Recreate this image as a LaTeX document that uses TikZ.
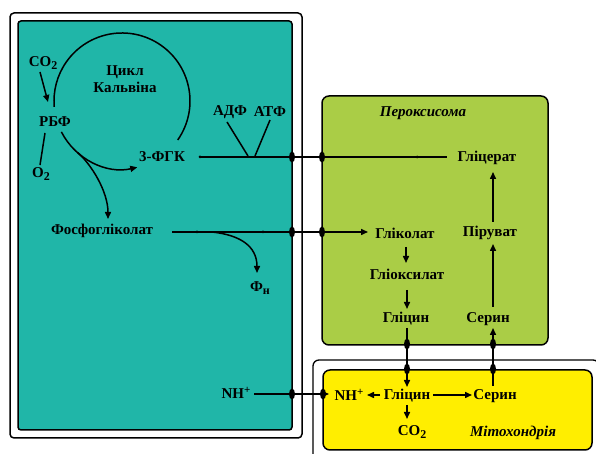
\documentclass[tikz,border=0pt]{standalone}
\usepackage{fontspec}
\setmainfont{Liberation Serif}
\usetikzlibrary{arrows.meta,shapes.geometric}
\definecolor{chlteal}{RGB}{32,182,168}
\definecolor{peroxg}{RGB}{170,205,70}
\definecolor{mitoy}{RGB}{255,238,0}
\newcommand\mysub[1]{\raisebox{-0.4ex}{\fontsize{12}{13}\selectfont #1}}
\newcommand\mysup[1]{\raisebox{0.7ex}{\fontsize{11}{12}\selectfont #1}}
\begin{document}
\begin{tikzpicture}[x=1pt,y=1pt,
  font=\fontsize{15}{17}\selectfont\bfseries,
  lbl/.style={inner sep=1pt},
  ital/.style={inner sep=1pt,font=\fontsize{15}{17}\selectfont\bfseries\itshape},
  ln/.style={line width=1.5pt},
  arr/.style={ln,-{Triangle[length=7pt,width=6pt]}},
  mem/.style={fill=black,ellipse,minimum width=6pt,minimum height=11pt,inner sep=0pt},
  tickdot/.style={fill=black,circle,inner sep=0pt,minimum size=3pt},
  boxline/.style={draw=black,line width=1.5pt}]
\useasboundingbox (0,0) rectangle (596,454);
\begin{scope}
\clip (0,0) rectangle (596,454);
% compartments
\draw[boxline,fill=white,rounded corners=4pt] (10,441) rectangle (302,16);
\draw[boxline,fill=chlteal,rounded corners=3pt] (18,433) rectangle (292,24);
\draw[boxline,fill=peroxg,rounded corners=7pt] (322,358) rectangle (548,109);
\draw[draw=black,line width=1.3pt,fill=white,rounded corners=6pt] (313,94) rectangle (599,-20);
\draw[boxline,fill=mitoy,rounded corners=7pt] (323,84) rectangle (592,4);
\end{scope}
% labels
\node[lbl] (co2) at (43,391) {CO\mysub{2}};
\node[lbl,align=center] (cyc) at (125,375) {Цикл\\Кальвіна};
\node[lbl] (rbf) at (55,332) {РБФ};
\node[lbl] (o2) at (41,280) {O\mysub{2}};
\node[lbl] (pga) at (162,297) {3-ФГК};
\node[lbl] (adp) at (230,342) {АДФ};
\node[lbl] (atp) at (270,342) {АТФ};
\node[lbl] (pgl) at (102,223) {Фосфогліколат};
\node[lbl] (pin) at (260,166) {Ф\mysub{н}};
\node[lbl] (nh1) at (236,61) {NH\mysup{+}};
\node[ital] (perox) at (423,341) {Пероксисома};
\node[lbl] (glyc) at (487,296) {Гліцерат};
\node[lbl] (glk) at (405,221) {Гліколат};
\node[lbl] (pyr) at (490,221) {Піруват};
\node[lbl] (glx) at (407,180) {Гліоксилат};
\node[lbl] (gly1) at (406,135) {Гліцин};
\node[lbl] (ser1) at (488,135) {Серин};
\node[lbl] (nh2) at (349,59) {NH\mysup{+}};
\node[lbl] (gly2) at (407,58) {Гліцин};
\node[lbl] (ser2) at (495,58) {Серин};
\node[lbl] (co2b) at (412,22) {CO\mysub{2}};
\node[ital] (mito) at (513,21) {Мітохондрія};
% coordinates
\coordinate (cycA) at (177.7,314);
\coordinate (cycB) at (61.4,322.1);
\coordinate (brA) at (77.4,301.7);
\coordinate (brB) at (108,235);
\coordinate (co2e) at (48,352);
\coordinate (co2s) at (40,382);
\coordinate (o2a) at (45,321);
\coordinate (o2b) at (40,289);
\coordinate (gs) at (200,297);
\coordinate (ge) at (447,297);
\coordinate (adpa) at (227,332);
\coordinate (adpb) at (248,298);
\coordinate (atpa) at (270,334);
\coordinate (atpb) at (255,298);
\coordinate (ps) at (172,222);
\coordinate (pe) at (368,222);
\coordinate (pb) at (212,222);
\coordinate (pn) at (257,181);
\coordinate (nhs) at (254,60);
\coordinate (nhe) at (329,60);
% Calvin cycle
\draw[ln] (cycA) arc[start angle=-35,end angle=185,radius=68];
\draw[arr] (cycB) arc[start angle=207,end angle=283,radius=68];
\draw[arr] (brA) .. controls (92,289) and (108,262) .. (brB);
\draw[arr] (co2s) -- (co2e);
\draw[ln] (o2a) -- (o2b);
% glycerate -> 3-PGA
\draw[ln] (gs) -- (ge);
\draw[ln] (adpa) -- (adpb);
\draw[ln] (atpa) -- (atpb);
\node[tickdot] at (gs) {};
\node[tickdot] at (417,297) {};
% phosphoglycolate -> glycolate
\draw[arr] (ps) -- (pe);
\draw[arr] (pb) .. controls (240,219) and (257,208) .. (pn);
\node[tickdot] at (197,222) {};
\node[tickdot] at (263,222) {};
% peroxisome
\draw[arr] (406,207) -- (406,191);
\draw[arr] (407,164) -- (407,145);
\draw[arr] (407,126) -- (407,67);
\draw[arr] (493,68) -- (493,126);
\draw[arr] (493,147) -- (493,210);
\draw[arr] (493,232) -- (493,282);
% mitochondrion
\draw[arr] (nhs) -- (nhe);
\draw[arr] (380,59) -- (367,59);
\draw[arr] (433,59) -- (472,59);
\draw[arr] (407,49) -- (407,35);
% membrane transporters
\foreach \p in {(292,297),(322,297),(292,222),(322,222),(292,60),(323,60),(407,110),(407,85),(493,110),(493,85)}
  \node[mem] at \p {};
\end{tikzpicture}
\end{document}
